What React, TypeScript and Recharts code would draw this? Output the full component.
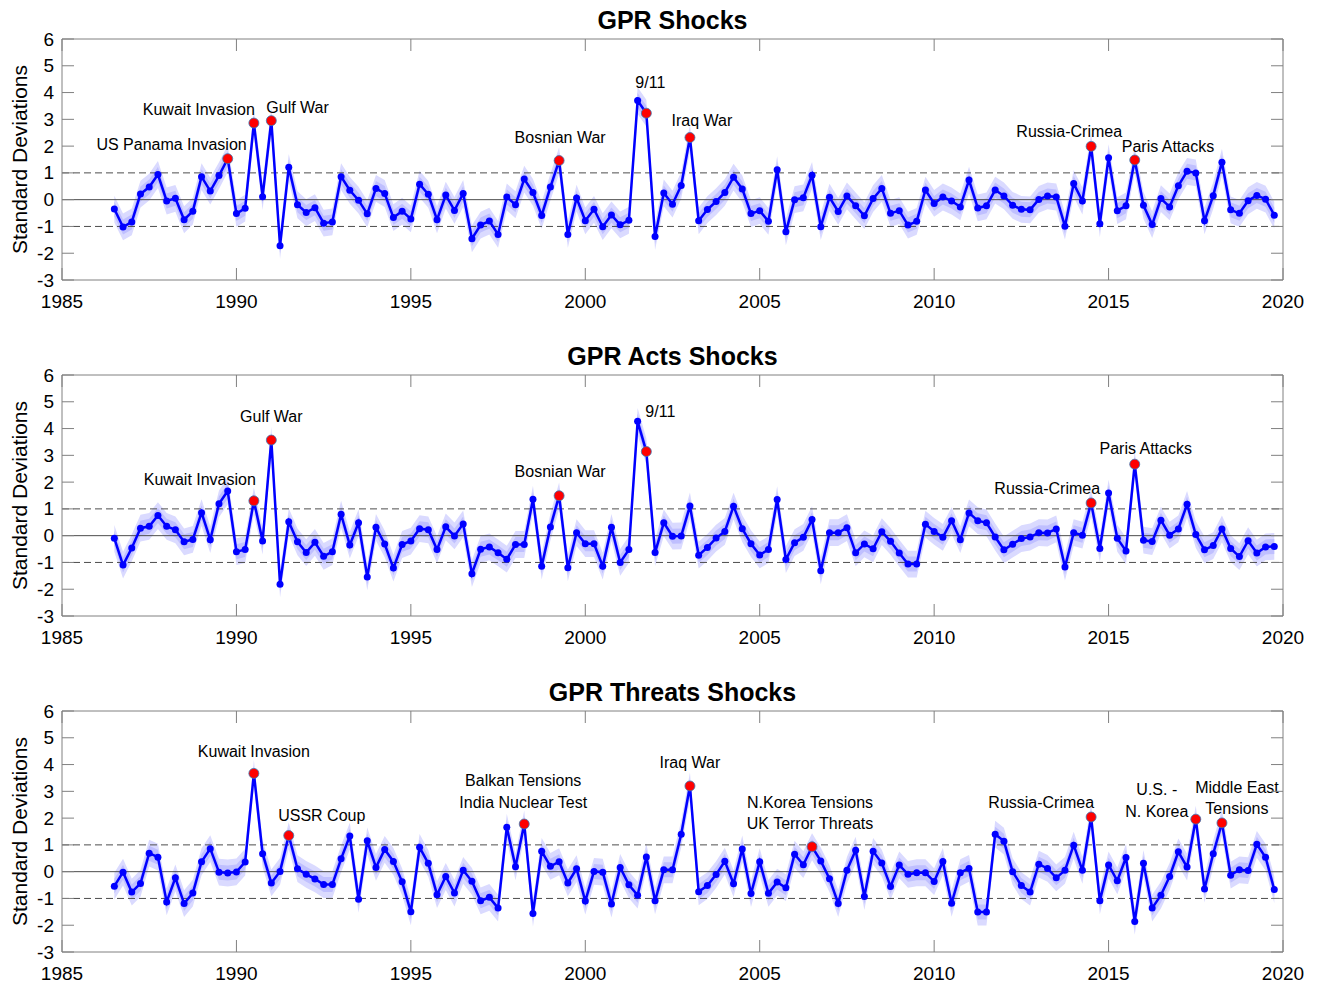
import React from 'react';
import { ComposedChart, Line, Area, XAxis, YAxis, ReferenceLine } from 'recharts';

// quarterly shocks, 1986Q3 .. 2019Q4
const firstQuarter = 1986.5;

const gprShocks = [
  -0.35, -1.02, -0.83, 0.21, 0.47, 0.94, -0.05, 0.05, -0.75, -0.43,
  0.86, 0.32, 0.9, 1.53, -0.52, -0.32, 2.86, 0.11, 2.95, -1.72,
  1.21, -0.19, -0.48, -0.3, -0.88, -0.83, 0.86, 0.35, -0.02, -0.53,
  0.42, 0.23, -0.67, -0.43, -0.72, 0.58, 0.2, -0.75, 0.17, -0.4,
  0.23, -1.46, -0.95, -0.8, -1.3, 0.1, -0.19, 0.77, 0.27, -0.59,
  0.47, 1.46, -1.3, 0.06, -0.79, -0.36, -1.01, -0.57, -0.94, -0.77,
  3.7, 3.23, -1.38, 0.25, -0.17, 0.53, 2.32, -0.79, -0.37, -0.07,
  0.27, 0.84, 0.4, -0.52, -0.41, -0.81, 1.12, -1.2, 0.0, 0.07,
  0.91, -1.01, 0.09, -0.44, 0.14, -0.23, -0.6, 0.04, 0.42, -0.51,
  -0.41, -0.95, -0.81, 0.36, -0.14, 0.1, -0.05, -0.27, 0.73, -0.31,
  -0.23, 0.36, 0.14, -0.21, -0.36, -0.38, 0.01, 0.14, 0.1, -0.99,
  0.6, -0.05, 1.99, -0.9, 1.57, -0.41, -0.23, 1.48, -0.21, -0.93,
  0.04, -0.27, 0.52, 1.06, 1.0, -0.79, 0.15, 1.4, -0.38, -0.51,
  -0.04, 0.16, 0.02, -0.58,
];

const gprActsShocks = [
  -0.1, -1.1, -0.46, 0.28, 0.35, 0.75, 0.35, 0.22, -0.23, -0.14,
  0.86, -0.15, 1.19, 1.67, -0.6, -0.52, 1.3, -0.2, 3.57, -1.81,
  0.52, -0.23, -0.63, -0.25, -0.77, -0.6, 0.8, -0.35, 0.48, -1.54,
  0.31, -0.31, -1.21, -0.33, -0.2, 0.26, 0.22, -0.52, 0.33, -0.01,
  0.44, -1.42, -0.51, -0.42, -0.64, -0.88, -0.33, -0.33, 1.36, -1.14,
  0.32, 1.49, -1.2, 0.11, -0.3, -0.3, -1.14, 0.31, -1.0, -0.52,
  4.27, 3.14, -0.63, 0.48, -0.02, -0.01, 1.11, -0.73, -0.44, -0.09,
  0.16, 1.1, 0.26, -0.3, -0.72, -0.52, 1.35, -0.89, -0.26, -0.06,
  0.6, -1.31, 0.11, 0.11, 0.3, -0.64, -0.31, -0.49, 0.15, -0.21,
  -0.65, -1.06, -1.06, 0.43, 0.16, -0.06, 0.56, -0.15, 0.85, 0.56,
  0.48, -0.05, -0.53, -0.32, -0.11, -0.05, 0.11, 0.1, 0.25, -1.17,
  0.11, 0.02, 1.22, -0.48, 1.59, -0.1, -0.57, 2.67, -0.17, -0.22,
  0.58, 0.02, 0.25, 1.17, 0.04, -0.53, -0.37, 0.25, -0.48, -0.78,
  -0.19, -0.65, -0.42, -0.4,
];

const gprThreatsShocks = [
  -0.54, -0.02, -0.76, -0.44, 0.69, 0.54, -1.13, -0.23, -1.19, -0.8,
  0.37, 0.86, -0.02, -0.05, -0.01, 0.36, 3.67, 0.67, -0.42, 0.01,
  1.35, 0.11, -0.1, -0.27, -0.48, -0.48, 0.48, 1.33, -1.03, 1.15,
  0.16, 0.83, 0.38, -0.38, -1.5, 0.91, 0.31, -0.86, -0.18, -0.8,
  0.05, -0.36, -1.09, -0.96, -1.36, 1.66, 0.18, 1.78, -1.56, 0.76,
  0.2, 0.37, -0.42, 0.11, -1.1, 0.01, -0.02, -1.21, 0.16, -0.49,
  -0.88, 0.55, -1.09, 0.07, 0.07, 1.4, 3.2, -0.75, -0.52, -0.11,
  0.39, -0.45, 0.85, -0.82, 0.37, -0.81, -0.39, -0.6, 0.65, 0.26,
  0.93, 0.4, -0.26, -1.19, 0.05, 0.8, -0.93, 0.76, 0.32, -0.55,
  0.25, -0.1, -0.04, -0.04, -0.37, 0.38, -1.18, -0.04, 0.12, -1.51,
  -1.51, 1.4, 1.14, 0.0, -0.52, -0.76, 0.28, 0.12, -0.23, 0.05,
  0.99, 0.05, 2.04, -1.09, 0.25, -0.34, 0.53, -1.86, 0.31, -1.36,
  -0.88, -0.18, 0.74, 0.17, 1.96, -0.65, 0.67, 1.82, -0.13, 0.07,
  0.04, 1.02, 0.54, -0.67,
];

const xTicks = [1985, 1990, 1995, 2000, 2005, 2010, 2015, 2020];
const yTicks = [-3, -2, -1, 0, 1, 2, 3, 4, 5, 6];

// event quarters and their labels
const gprEventDates = [1989.75, 1990.5, 1991.0, 1999.25, 2001.75, 2003.0, 2014.5, 2015.75];
const gprEventLabels = [
  ['US Panama Invasion'], ['Kuwait Invasion'], ['Gulf War'], ['Bosnian War'],
  ['9/11'], ['Iraq War'], ['Russia-Crimea'], ['Paris Attacks'],
];
const actsEventDates = [1990.5, 1991.0, 1999.25, 2001.75, 2014.5, 2015.75];
const actsEventLabels = [
  ['Kuwait Invasion'], ['Gulf War'], ['Bosnian War'], ['9/11'], ['Russia-Crimea'], ['Paris Attacks'],
];
const threatsEventDates = [1990.5, 1991.5, 1998.25, 2003.0, 2006.5, 2014.5, 2017.5, 2018.25];
const threatsEventLabels = [
  ['Kuwait Invasion'], ['USSR Coup'], ['Balkan Tensions', 'India Nuclear Test'], ['Iraq War'],
  ['N.Korea Tensions', 'UK Terror Threats'], ['Russia-Crimea'], ['U.S. -', 'N. Korea'], ['Middle East', 'Tensions'],
];

// where each label sits relative to its red dot (pixels)
type Place = { anchor: 'start' | 'middle' | 'end'; dx: number; dy: number; gap?: number };
const gprPlaces: Place[] = [
  { anchor: 'end', dx: 19, dy: -14 },
  { anchor: 'end', dx: 1, dy: -14 },
  { anchor: 'start', dx: -5, dy: -13 },
  { anchor: 'middle', dx: 1, dy: -23 },
  { anchor: 'middle', dx: 4, dy: -31 },
  { anchor: 'middle', dx: 12, dy: -17 },
  { anchor: 'end', dx: 31, dy: -15 },
  { anchor: 'start', dx: -13, dy: -14 },
];
const actsPlaces: Place[] = [
  { anchor: 'end', dx: 2, dy: -21 },
  { anchor: 'middle', dx: 0, dy: -24 },
  { anchor: 'middle', dx: 1, dy: -24 },
  { anchor: 'middle', dx: 14, dy: -40 },
  { anchor: 'end', dx: 9, dy: -14 },
  { anchor: 'middle', dx: 11, dy: -16 },
];
const threatsPlaces: Place[] = [
  { anchor: 'middle', dx: 0, dy: -22 },
  { anchor: 'middle', dx: 33, dy: -20 },
  { anchor: 'middle', dx: -1, dy: -44, gap: 22 },
  { anchor: 'middle', dx: 0, dy: -23 },
  { anchor: 'middle', dx: -2, dy: -44, gap: 21 },
  { anchor: 'end', dx: 3, dy: -15 },
  { anchor: 'middle', dx: -39, dy: -30, gap: 22 },
  { anchor: 'middle', dx: 15, dy: -35, gap: 21 },
];

const FONT = 'Arial, "Liberation Sans", Helvetica, sans-serif';
const BOX = '#808080';
const TICK = 12;
const INNER = 0.28;
const OUTER = 0.5;
const W = 1322;
const H = 336;

const LeftTick = (p: any) => (
  <g>
    <line x1={p.x} y1={p.y} x2={p.x + TICK} y2={p.y} stroke={BOX} />
    <text x={p.x - 8} y={p.y} textAnchor="end" dominantBaseline="central" fontSize={19} fontFamily={FONT} fill="#000">
      {p.payload.value}
    </text>
  </g>
);
const RightTick = (p: any) => <line x1={p.x} y1={p.y} x2={p.x - TICK} y2={p.y} stroke={BOX} />;
const BottomTick = (p: any) => (
  <g>
    <line x1={p.x} y1={p.y} x2={p.x} y2={p.y - TICK} stroke={BOX} />
    <text x={p.x} y={p.y + 21} textAnchor="middle" dominantBaseline="central" fontSize={19} fontFamily={FONT} fill="#000">
      {p.payload.value}
    </text>
  </g>
);
const TopTick = (p: any) => <line x1={p.x} y1={p.y} x2={p.x} y2={p.y + TICK} stroke={BOX} />;

const YTitle = (p: any) => {
  const vb = p.viewBox;
  const cx = vb.x + vb.width - 43;
  const cy = vb.y + vb.height / 2;
  return (
    <text x={cx} y={cy} transform={`rotate(-90 ${cx} ${cy})`} textAnchor="middle" dominantBaseline="central" fontSize={21} fontFamily={FONT} fill="#000">
      Standard Deviations
    </text>
  );
};

type PanelProps = {
  title: string;
  values: number[];
  eventDates: number[];
  eventLabels: string[][];
  places: Place[];
  top: number;
};

const Panel = ({ title, values, eventDates, eventLabels, places, top }: PanelProps) => {
  const data = values.map((v, i) => ({
    t: firstQuarter + i * 0.25,
    v,
    inner: [v - INNER, v + INNER],
    outer: [v - OUTER, v + OUTER],
  }));

  const dot = (p: any) => {
    const { cx, cy, index } = p;
    const e = eventDates.findIndex((d) => Math.abs(d - data[index].t) < 0.01);
    if (e < 0) return <circle key={`d${index}`} cx={cx} cy={cy} r={3.5} fill="#0000ff" />;
    const pl = places[e];
    return (
      <g key={`e${index}`}>
        <circle cx={cx} cy={cy} r={5} fill="#ff0000" stroke="#3a78b5" strokeWidth={0.8} />
        {eventLabels[e].map((s, k) => (
          <text
            key={k}
            x={cx + pl.dx}
            y={cy + pl.dy + k * (pl.gap ?? 22)}
            textAnchor={pl.anchor}
            dominantBaseline="central"
            fontSize={16}
            fontFamily={FONT}
            fill="#000"
          >
            {s}
          </text>
        ))}
      </g>
    );
  };

  return (
    <div style={{ position: 'absolute', left: 0, top, width: W, height: H }}>
      <ComposedChart width={W} height={H} data={data} margin={{ top: 0, right: 0, bottom: 0, left: 0 }}>
        <XAxis dataKey="t" type="number" domain={[1985, 2020]} ticks={xTicks} allowDataOverflow height={56}
          tickSize={0} tickMargin={0} tickLine={false} axisLine={{ stroke: BOX }} tick={<BottomTick />} />
        <XAxis xAxisId="top" orientation="top" dataKey="t" type="number" domain={[1985, 2020]} ticks={xTicks}
          allowDataOverflow height={39} tickSize={0} tickMargin={0} tickLine={false} axisLine={{ stroke: BOX }} tick={<TopTick />} />
        <YAxis type="number" domain={[-3, 6]} ticks={yTicks} allowDataOverflow width={62} tickSize={0} tickMargin={0}
          tickLine={false} axisLine={{ stroke: BOX }} tick={<LeftTick />} label={<YTitle />} />
        <YAxis yAxisId="right" orientation="right" type="number" domain={[-3, 6]} ticks={yTicks} allowDataOverflow
          width={39} tickSize={0} tickMargin={0} tickLine={false} axisLine={{ stroke: BOX }} tick={<RightTick />} />
        <ReferenceLine y={0} stroke="#4d4d4d" strokeWidth={1} />
        <ReferenceLine y={1} stroke="#4d4d4d" strokeWidth={1} strokeDasharray="7 4" />
        <ReferenceLine y={-1} stroke="#4d4d4d" strokeWidth={1} strokeDasharray="7 4" />
        <Area type="linear" dataKey="outer" stroke="none" fill="#dadaff" fillOpacity={1} isAnimationActive={false} />
        <Area type="linear" dataKey="inner" stroke="none" fill="#bfbfff" fillOpacity={1} isAnimationActive={false} />
        <Line type="linear" dataKey="v" stroke="#0000ff" strokeWidth={2.5} dot={dot} activeDot={false} isAnimationActive={false} />
      </ComposedChart>
      <div
        style={{
          position: 'absolute', left: 62, top: 6, width: 1221, height: 28, lineHeight: '28px',
          textAlign: 'center', fontFamily: FONT, fontWeight: 'bold', fontSize: 25, color: '#000',
        }}
      >
        {title}
      </div>
    </div>
  );
};

export default function App() {
  return (
    <div style={{ position: 'absolute', left: 0, top: 0, width: W, height: 988, overflow: 'hidden', background: '#fff' }}>
      <Panel title="GPR Shocks" values={gprShocks} eventDates={gprEventDates} eventLabels={gprEventLabels} places={gprPlaces} top={0} />
      <Panel title="GPR Acts Shocks" values={gprActsShocks} eventDates={actsEventDates} eventLabels={actsEventLabels} places={actsPlaces} top={336} />
      <Panel title="GPR Threats Shocks" values={gprThreatsShocks} eventDates={threatsEventDates} eventLabels={threatsEventLabels} places={threatsPlaces} top={672} />
    </div>
  );
}
